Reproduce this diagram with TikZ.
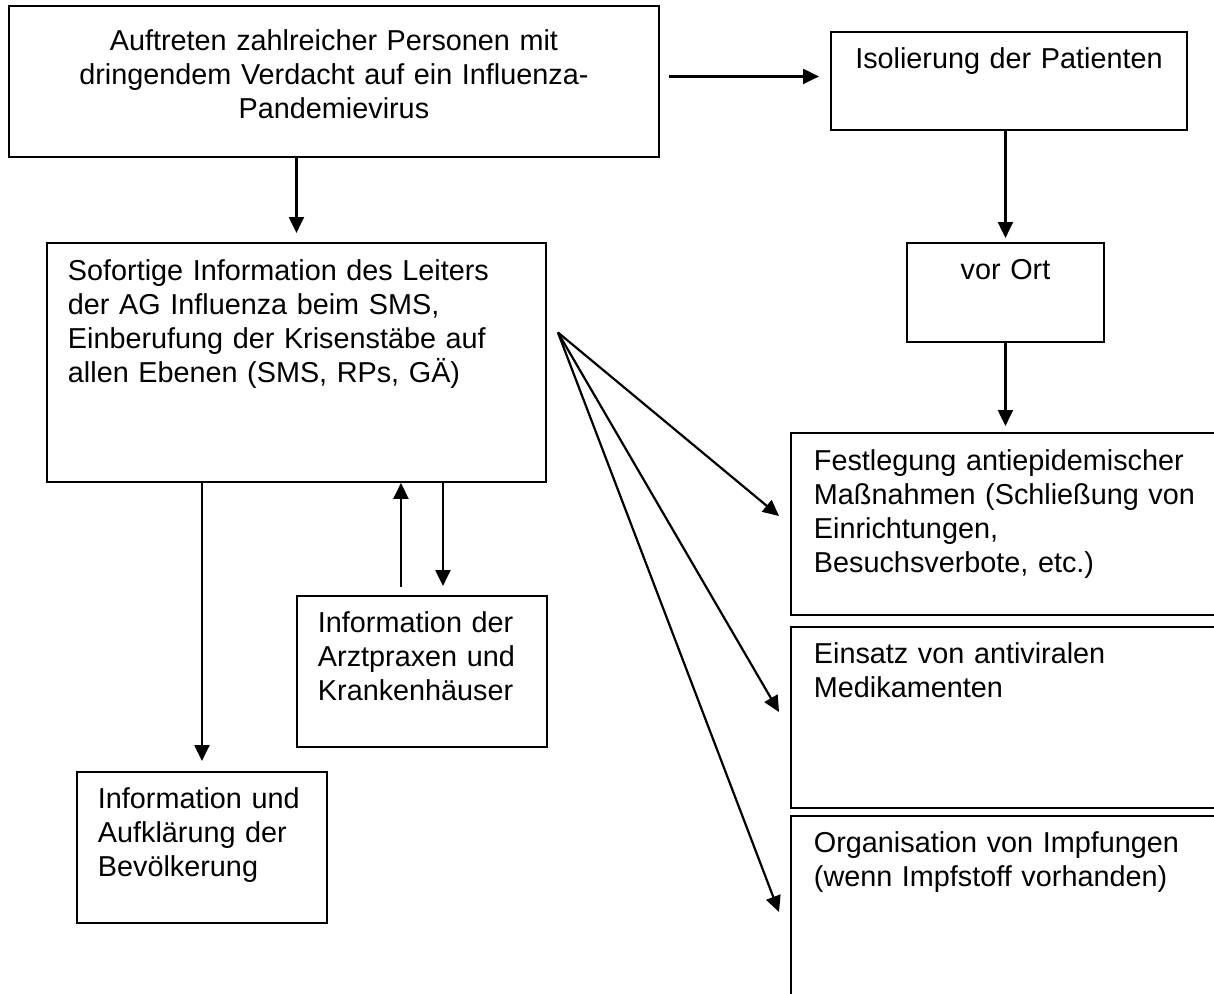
\documentclass[tikz,border=0pt]{standalone}
\usepackage{fontspec}
\setmainfont{Liberation Sans}
\usetikzlibrary{arrows.meta}
\tikzset{
	box/.style={draw, line width=1.9pt, anchor=north west, inner ysep=0pt, align=left},
	arr/.style={line width=2.2pt, -{Triangle[length=16pt,width=15pt]}}
}
\begin{document}
\begin{tikzpicture}[x=1pt, y=-1pt, font=\fontsize{28.8}{34}\selectfont]
	\useasboundingbox (0,0) rectangle (1214,993);
	\node[box, align=center, inner xsep=10pt, text width=630pt, text height=45pt, text depth=106pt] (auftreten) at (8,5) {Auftreten zahlreicher Personen mit\\dringendem Verdacht auf ein Influenza-\\Pandemievirus};
	\node[box, align=center, inner xsep=10pt, text width=336pt, text height=37pt, text depth=61pt] (iso) at (830,31) {Isolierung der Patienten};
	\node[box, align=center, inner xsep=10pt, text width=177pt, text height=37pt, text depth=62pt] (ort) at (906,242) {vor Ort};
	\node[box, inner xsep=21pt, text width=457pt, text height=38pt, text depth=201pt] (sof) at (46,242) {Sofortige Information des Leiters\\der AG Influenza beim SMS,\\Einberufung der Krisenstäbe auf\\allen Ebenen (SMS, RPs, GÄ)};
	\node[box, inner xsep=21pt, text width=208pt, text height=37pt, text depth=114pt] (arzt) at (296,595) {Information der\\Arztpraxen und\\Krankenhäuser};
	\node[box, inner xsep=21pt, text width=208pt, text height=37pt, text depth=114pt] (bev) at (76,771) {Information und\\Aufklärung der\\Bevölkerung};
	\node[box, inner xsep=23pt, text width=394pt, text height=38pt, text depth=144pt] (fest) at (790,432) {Festlegung antiepidemischer\\Maßnahmen (Schließung von\\Einrichtungen,\\Besuchsverbote, etc.)};
	\node[box, inner xsep=23pt, text width=394pt, text height=37pt, text depth=144pt] (ein) at (790,626) {Einsatz von antiviralen\\Medikamenten};
	\node[box, inner xsep=23pt, text width=394pt, text height=37pt, text depth=163pt] (org) at (790,815) {Organisation von Impfungen\\(wenn Impfstoff vorhanden)};

	\draw[arr, shorten <=9pt, shorten >=11pt] ([yshift=5pt]auftreten.east) -- ([yshift=5pt]auftreten.east -| iso.west);
	\draw[arr, shorten >=9pt] (auftreten.south -| sof.north) -- (sof.north);
	\draw[arr, shorten >=4pt] (iso.south -| ort.north) -- (ort.north);
	\draw[arr, shorten >=6pt] (ort.south) -- (ort.south |- fest.north);

	\coordinate (fan) at ([xshift=11pt, yshift=30pt]sof.east);
	\draw[arr] (fan) -- ([xshift=-11pt, yshift=-84pt]fest.north west);
	\draw[arr] (fan) -- ([xshift=-11pt, yshift=-86pt]ein.north west);
	\draw[arr] (fan) -- ([xshift=-11pt, yshift=-97pt]org.north west);

	\draw[arr, shorten >=10pt] (sof.south -| bev.north) -- (bev.north);
	\coordinate (arztup) at ([xshift=-21pt]arzt.north);
	\coordinate (arztdown) at ([xshift=21pt]arzt.north);
	\draw[arr, shorten <=8pt] (arztup) -- (arztup |- sof.south);
	\draw[arr, shorten >=9pt] (arztdown |- sof.south) -- (arztdown);
\end{tikzpicture}
\end{document}
